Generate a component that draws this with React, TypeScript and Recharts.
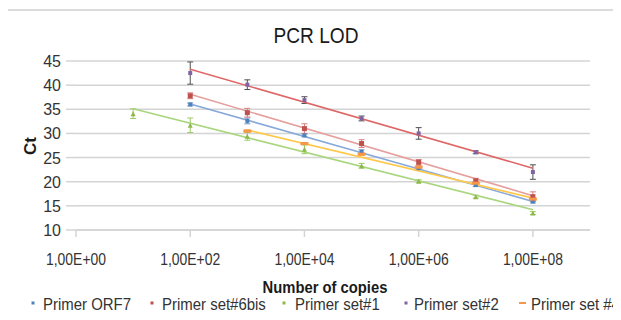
import React from "react";
import { ScatterChart, Scatter, XAxis, YAxis, CartesianGrid, ErrorBar } from "recharts";

// copies on a log axis, Ct values
const xTicks = [1, 1e2, 1e4, 1e6, 1e8];
const yTicks = [10, 15, 20, 25, 30, 35, 40, 45];

const copies7 = [1e2, 1e3, 1e4, 1e5, 1e6, 1e7, 1e8];
const copies8 = [1e1, 1e2, 1e3, 1e4, 1e5, 1e6, 1e7, 1e8];
const copies6 = [1e3, 1e4, 1e5, 1e6, 1e7, 1e8];

const orf7Ct = [36.0, 32.6, 29.6, 26.2, 22.8, 19.3, 15.9];
const orf7Err = [0.3, 0.6, 0.3, 0.4, 0.3, 0.3, 0.3];

const set6bisCt = [37.8, 34.3, 31.0, 27.9, 24.0, 20.2, 16.9];
const set6bisErr = [0.6, 0.9, 1.0, 0.8, 0.6, 0.5, 1.0];

const set1Ct = [34.1, 31.7, 29.4, 26.7, 23.3, 20.1, 16.9, 13.5];
const set1Err = [1.0, 1.5, 0.8, 0.9, 0.5, 0.3, 0.3, 0.3];

const set2Ct = [42.5, 40.1, 36.9, 33.1, 30.0, 26.1, 22.0];
const set2Err = [2.3, 1.0, 0.7, 0.5, 1.2, 0.3, 1.5];

const set4Ct = [30.5, 27.9, 25.7, 23.0, 19.7, 16.4];
const set4Err = [0.2, 0.2, 0.2, 0.2, 0.2, 0.3];

// trendline end points (copies, Ct)
const orf7Trend = [[1e2, 36.1], [1e8, 15.9]];
const set6bisTrend = [[1e2, 38.1], [1e8, 17.1]];
const set1Trend = [[1e1, 35.1], [1e8, 14.2]];
const set2Trend = [[1e2, 43.3], [1e8, 22.8]];
const set4Trend = [[1e3, 30.7], [1e8, 16.6]];

const toPoints = (xs: number[], ys: number[], errs: number[]) =>
  xs.map((x, i) => ({ x, y: ys[i], err: errs[i] }));
const toTrend = (pts: number[][]) => pts.map(([x, y]) => ({ x, y }));

type Marker = "square" | "triangle" | "dash";

const series = [
  { name: "Primer ORF7", data: toPoints(copies7, orf7Ct, orf7Err), trend: toTrend(orf7Trend), color: "#4F81BD", trendColor: "#86A9DA", errColor: "#6E95C8", marker: "square" as Marker, size: 4 },
  { name: "Primer set#6bis", data: toPoints(copies7, set6bisCt, set6bisErr), trend: toTrend(set6bisTrend), color: "#C0504D", trendColor: "#E5A09E", errColor: "#D77F7D", marker: "square" as Marker, size: 5 },
  { name: "Primer set#1", data: toPoints(copies8, set1Ct, set1Err), trend: toTrend(set1Trend), color: "#8DB94A", trendColor: "#A9D67E", errColor: "#9BCB62", marker: "triangle" as Marker, size: 5 },
  { name: "Primer set#2", data: toPoints(copies7, set2Ct, set2Err), trend: toTrend(set2Trend), color: "#8064A2", trendColor: "#E06666", errColor: "#505050", marker: "square" as Marker, size: 4 },
  { name: "Primer set #4", data: toPoints(copies6, set4Ct, set4Err), trend: toTrend(set4Trend), color: "#F79646", trendColor: "#FFC84A", errColor: "#F79646", marker: "dash" as Marker, size: 8 },
];

const legendX = [[33, 43], [152, 162], [284, 295], [406, 414], [522, 531]];

const grid = "#d4d4d4";
const textDark = "#1a1a1a";
const tickText = "#333333";
const font = "'Liberation Sans', Arial, sans-serif";

const makeShape = (marker: Marker, color: string, size: number) => (props: any) => {
  const { cx, cy } = props;
  if (cx == null || cy == null) return <g />;
  if (marker === "triangle") {
    const h = size;
    return <path d={`M${cx},${cy - h / 2} L${cx + h / 2},${cy + h / 2} L${cx - h / 2},${cy + h / 2} Z`} fill={color} />;
  }
  if (marker === "dash") {
    return <rect x={cx - size / 2} y={cy - 1.5} width={size} height={3} fill={color} />;
  }
  return <rect x={cx - size / 2} y={cy - size / 2} width={size} height={size} fill={color} />;
};

const noShape = () => <g />;

const expLabel = (v: number) => {
  const e = Math.round(Math.log10(v));
  return `1,00E+${String(e).padStart(2, "0")}`;
};

const XTick = (props: any) => {
  const { x, y, payload } = props;
  return (
    <g transform={`translate(${x},${y})`}>
      <text transform="scale(0.82,1)" x={0} y={0} dy={26} textAnchor="middle" fontSize={17} fill={tickText} fontFamily={font}>
        {expLabel(payload.value)}
      </text>
    </g>
  );
};

const YTick = (props: any) => {
  const { y, payload } = props;
  return (
    <text x={61} y={y} dy={6} textAnchor="end" fontSize={16} fill={tickText} fontFamily={font}>
      {payload.value}
    </text>
  );
};

export default function App() {
  return (
    <div style={{ position: "relative", width: 621, height: 320, margin: -8, background: "#fff", overflow: "hidden", fontFamily: font }}>
      {/* page frame around the chart */}
      <div style={{ position: "absolute", left: 10, top: -12, fontSize: 16, lineHeight: 1, color: "#333" }}>result.</div>
      <div style={{ position: "absolute", left: 4, top: 0, width: 2, height: 10, background: "#e07070" }} />
      <div style={{ position: "absolute", left: 0, top: 9, width: 621, height: 2, background: "#dcdcdc" }} />
      <div style={{ position: "absolute", left: 3, top: 10, width: 1, height: 310, background: "#dcdcdc" }} />

      <div style={{ position: "absolute", left: 0, top: 0 }}>
        <ScatterChart width={621} height={320} margin={{ top: 61, right: 31, bottom: 50, left: 16 }}>
          <CartesianGrid vertical={false} stroke={grid} strokeWidth={1.5} />
          <XAxis
            dataKey="x"
            type="number"
            scale="log"
            domain={[1, 1e9]}
            ticks={xTicks}
            height={40}
            axisLine={{ stroke: grid, strokeWidth: 1.5 }}
            tickLine={{ stroke: grid, strokeWidth: 1.5 }}
            tickSize={7}
            tickMargin={2}
            tick={<XTick />}
            interval={0}
          />
          <YAxis
            dataKey="y"
            type="number"
            domain={[10, 45]}
            ticks={yTicks}
            width={60}
            axisLine={false}
            tickLine={{ stroke: grid, strokeWidth: 1.5 }}
            tickSize={10}
            tick={<YTick />}
            interval={0}
          />
          {series.map((s) => (
            <Scatter
              key={s.name + "-trend"}
              data={s.trend}
              line={{ stroke: s.trendColor, strokeWidth: 1.6 }}
              shape={noShape}
              legendType="none"
              isAnimationActive={false}
            />
          ))}
          {series.map((s) => (
            <Scatter
              key={s.name}
              name={s.name}
              data={s.data}
              fill={s.color}
              shape={makeShape(s.marker, s.color, s.size)}
              isAnimationActive={false}
            >
              <ErrorBar dataKey="err" direction="y" width={3} stroke={s.errColor} strokeWidth={1} />
            </Scatter>
          ))}
        </ScatterChart>
      </div>

      {/* titles and legend */}
      <svg width={621} height={320} style={{ position: "absolute", left: 0, top: 0, pointerEvents: "none" }}>
        <text transform="translate(316,43) scale(0.87,1)" textAnchor="middle" fontSize={22} fill={textDark} fontFamily={font}>
          PCR LOD
        </text>
        <text transform="translate(36,146) rotate(-90)" textAnchor="middle" fontSize={17} fontWeight="bold" fill={textDark} fontFamily={font}>
          Ct
        </text>
        <text transform="translate(325,293) scale(0.87,1)" textAnchor="middle" fontSize={17} fontWeight="bold" fill={textDark} fontFamily={font}>
          Number of copies
        </text>
        {series.map((s, i) => (
          <g key={s.name}>
            {s.marker === "dash" ? (
              <rect x={legendX[i][0] - 3} y={302} width={7} height={2} fill={s.color} />
            ) : (
              <rect x={legendX[i][0] - 1.5} y={301.5} width={3} height={3} fill={s.color} />
            )}
            <text transform={`translate(${legendX[i][1]},310) scale(0.88,1)`} fontSize={17} fill={tickText} fontFamily={font}>
              {s.name}
            </text>
          </g>
        ))}
      </svg>
    </div>
  );
}
